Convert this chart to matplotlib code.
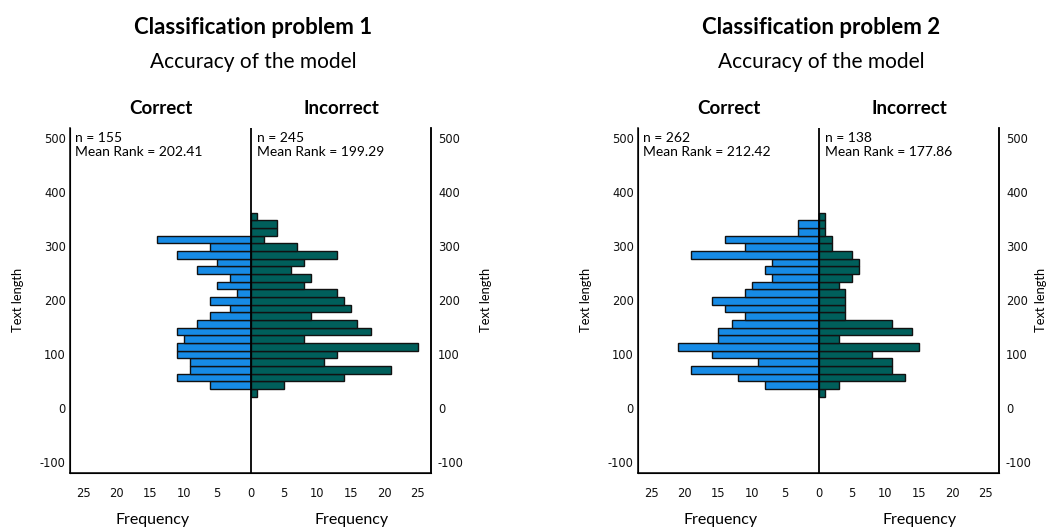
import numpy as np
import matplotlib
matplotlib.use("Agg")
import matplotlib.pyplot as plt
from matplotlib.ticker import FuncFormatter

plt.rcParams["axes.unicode_minus"] = False

# %% data (counts per text-length bin, listed from the lowest bin upward)
bin_low = 21.4
bin_width = 14.17

p1_correct = [0, 6, 11, 9, 9, 11, 11, 10, 11, 8, 6, 3, 6, 2, 5, 3, 8, 5, 11, 6, 14, 0, 0, 0]
p1_incorrect = [1, 5, 14, 21, 11, 13, 25, 8, 18, 16, 9, 15, 14, 13, 8, 9, 6, 8, 13, 7, 2, 4, 4, 1]
p2_correct = [0, 8, 12, 19, 9, 16, 21, 15, 15, 13, 11, 14, 16, 11, 10, 7, 8, 7, 19, 11, 14, 3, 3, 0]
p2_incorrect = [1, 3, 13, 11, 11, 8, 15, 3, 14, 11, 4, 4, 4, 4, 3, 5, 6, 6, 5, 2, 2, 1, 1, 1]

titles = ["Classification problem 1", "Classification problem 2"]
n_text = [("n = 155\nMean Rank = 202.41", "n = 245\nMean Rank = 199.29"),
          ("n = 262\nMean Rank = 212.42", "n = 138\nMean Rank = 177.86")]

x_ticks = [-25, -20, -15, -10, -5, 0, 5, 10, 15, 20, 25]
y_ticks = [-100, 0, 100, 200, 300, 400, 500]

blue = "#168be6"
green = "#005f5b"
TF = "Lato"

# %% figure
fig = plt.figure(figsize=(10.48, 5.29), dpi=100)
W, H = 1048, 529

panels = [(70, p1_correct, p1_incorrect), (638, p2_correct, p2_incorrect)]

for i, (x0, corr, inc) in enumerate(panels):
    ax = fig.add_axes([x0 / W, (H - 473) / H, 361 / W, 345 / H])
    n_bins = len(corr)
    centers = bin_low + bin_width * (np.arange(n_bins) + 0.5)

    ax.barh(centers, -np.array(corr), height=bin_width, color=blue,
            edgecolor="#111111", linewidth=1.0, zorder=2)
    ax.barh(centers, inc, height=bin_width, color=green,
            edgecolor="#111111", linewidth=1.0, zorder=2)
    ax.axvline(0, color="black", lw=1.3, zorder=3)

    ax.set_xlim(-27, 27)
    ax.set_ylim(-120, 518)
    ax.set_xticks(x_ticks)
    ax.xaxis.set_major_formatter(FuncFormatter(lambda v, p: f"{abs(int(v))}"))
    ax.set_yticks(y_ticks)
    ax.tick_params(axis="both", length=0, labelsize=8.3, colors="#111111")
    ax.tick_params(axis="x", pad=10)
    ax.tick_params(axis="y", pad=3)
    ax.spines["top"].set_visible(False)
    for s in ["left", "right", "bottom"]:
        ax.spines[s].set_color("black")
        ax.spines[s].set_linewidth(1.1)

    # right-hand axis with the same scale
    ax2 = ax.twinx()
    ax2.set_ylim(ax.get_ylim())
    ax2.set_yticks(y_ticks)
    ax2.tick_params(axis="y", length=0, labelsize=8.3, colors="#111111", pad=5)
    ax2.spines["top"].set_visible(False)
    ax2.spines["right"].set_linewidth(1.1)

    cx = x0 + 183
    fig.text(cx / W, 1 - 27 / H, titles[i], ha="center", va="center",
             fontsize=16, fontweight="bold", family=TF)
    fig.text(cx / W, 1 - 62 / H, "Accuracy of the model", ha="center",
             va="center", fontsize=15, family=TF)
    fig.text((x0 + 91) / W, 1 - 108 / H, "Correct", ha="center", va="center",
             fontsize=13.5, fontweight="bold", family=TF)
    fig.text((x0 + 271) / W, 1 - 108 / H, "Incorrect", ha="center", va="center",
             fontsize=13.5, fontweight="bold", family=TF)

    ax.text(-26.2, 511, n_text[i][0], ha="left", va="top", fontsize=10,
            family=TF, linespacing=1.2)
    ax.text(0.9, 511, n_text[i][1], ha="left", va="top", fontsize=10,
            family=TF, linespacing=1.2)

    fig.text((x0 + 83) / W, 1 - 520 / H, "Frequency", ha="center", va="center",
             fontsize=11.5, family=TF)
    fig.text((x0 + 282) / W, 1 - 520 / H, "Frequency", ha="center", va="center",
             fontsize=11.5, family=TF)

    fig.text((x0 - 52) / W, 1 - 300 / H, "Text length", ha="center",
             va="center", rotation=90, fontsize=9.3, family=TF)
    rx = min(x0 + 361 + 55, 1041)
    fig.text(rx / W, 1 - 300 / H, "Text length", ha="center",
             va="center", rotation=90, fontsize=9.3, family=TF)

plt.savefig("out.png", dpi=100, facecolor="w")
